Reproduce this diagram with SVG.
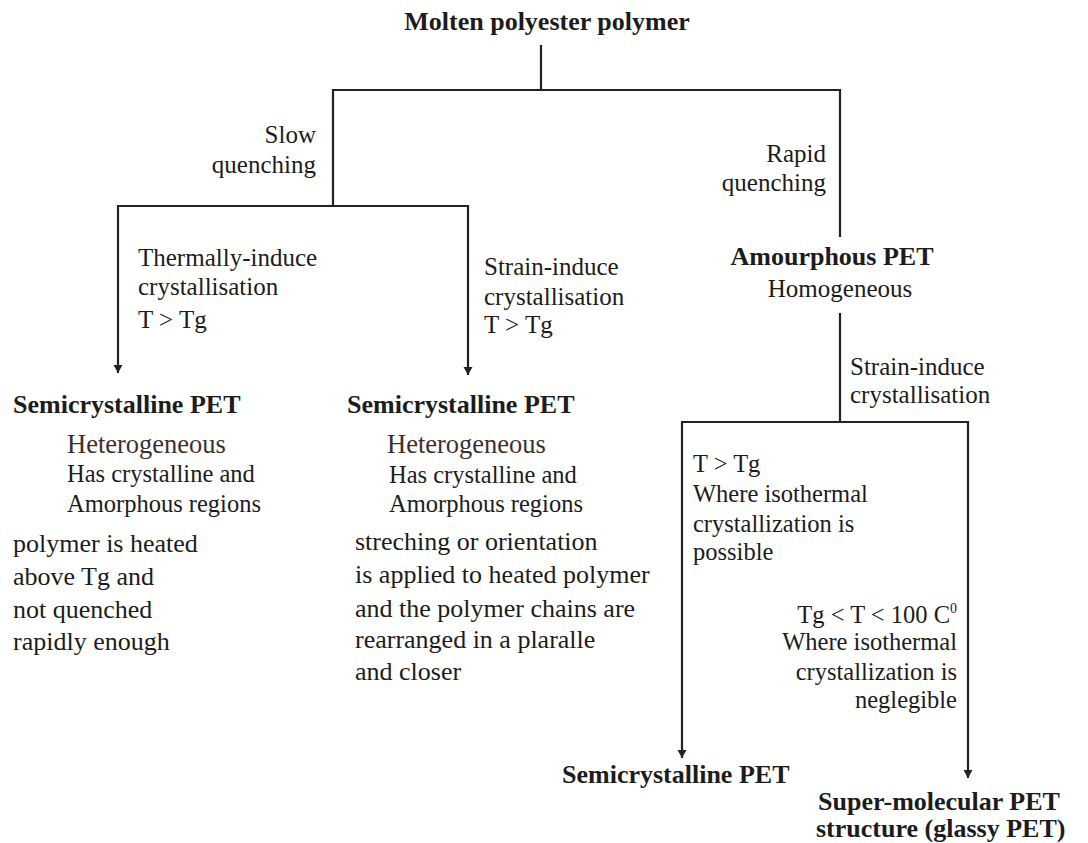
<svg xmlns="http://www.w3.org/2000/svg" width="1088" height="843" viewBox="0 0 1088 843">
<defs>
<style>
text{font-family:"Liberation Serif","Times New Roman",serif;fill:#1c1c1c;font-size:25px}
.b{font-weight:bold;font-size:26px}
.s{font-size:24.5px}
.big{font-size:26px}
.het{font-size:26.5px;fill:#3a3030}
.r{text-anchor:end}
.c{text-anchor:middle}
.ln{stroke:#222;stroke-width:2.2;fill:none}
</style>
<marker id="a" markerWidth="12" markerHeight="10" refX="10" refY="5" orient="auto" markerUnits="userSpaceOnUse">
<path d="M2,0.5 L10,5 L2,9.5 Z" fill="#222"/>
</marker>
</defs>
<rect width="1088" height="843" fill="#fff"/>
<g id="connectors">
<path class="ln" d="M541,45 V90"/>
<path class="ln" d="M333,206 V90 H840 V237"/>
<path class="ln" d="M118,206 H468"/>
<path class="ln" d="M118,205 V373" marker-end="url(#a)"/>
<path class="ln" d="M468,205 V375" marker-end="url(#a)"/>
<path class="ln" d="M840,313 V422"/>
<path class="ln" d="M682,422 H968"/>
<path class="ln" d="M682,421 V758" marker-end="url(#a)"/>
<path class="ln" d="M968,421 V778" marker-end="url(#a)"/>
<text x="316" y="143" class="r">Slow</text>
<text x="316" y="173" class="r">quenching</text>
<text x="826" y="162" class="r">Rapid</text>
<text x="826" y="191" class="r">quenching</text>
<text x="138" y="266">Thermally-induce</text>
<text x="138" y="295">crystallisation</text>
<text x="138" y="328">T &gt; Tg</text>
<text x="484" y="275">Strain-induce</text>
<text x="484" y="305">crystallisation</text>
<text x="484" y="333">T &gt; Tg</text>
<text x="850" y="375">Strain-induce</text>
<text x="850" y="403">crystallisation</text>
<text x="693" y="472" class="s">T &gt; Tg</text>
<text x="693" y="502" class="s">Where isothermal</text>
<text x="693" y="532" class="s">crystallization is</text>
<text x="693" y="560" class="s">possible</text>
<text x="957" y="623" class="s r">Tg &lt; T &lt; 100 C<tspan dy="-10" font-size="14">0</tspan></text>
<text x="957" y="650" class="s r">Where isothermal</text>
<text x="957" y="680" class="s r">crystallization is</text>
<text x="957" y="708" class="s r">neglegible</text>
</g>
<g id="n-molten"><text x="547" y="30" class="b c">Molten polyester polymer</text></g>
<g id="n-amorphous">
<text x="832" y="265" class="b c">Amourphous PET</text>
<text x="840" y="297" class="c">Homogeneous</text>
</g>
<g id="n-semi1">
<text x="13" y="413" class="b">Semicrystalline PET</text>
<text x="67" y="453" class="het">Heterogeneous</text>
<text x="67" y="482" class="s">Has crystalline and</text>
<text x="67" y="512" class="s">Amorphous regions</text>
<text x="13" y="552" class="big">polymer is heated</text>
<text x="13" y="585" class="big">above Tg and</text>
<text x="13" y="618" class="big">not quenched</text>
<text x="13" y="650" class="big">rapidly enough</text>
</g>
<g id="n-semi2">
<text x="347" y="413" class="b">Semicrystalline PET</text>
<text x="387" y="453" class="het">Heterogeneous</text>
<text x="389" y="483" class="s">Has crystalline and</text>
<text x="389" y="512" class="s">Amorphous regions</text>
<text x="355" y="550" class="big">streching or orientation</text>
<text x="355" y="583" class="big">is applied to heated polymer</text>
<text x="355" y="617" class="big">and the polymer chains are</text>
<text x="355" y="648" class="big">rearranged in a plaralle</text>
<text x="355" y="680" class="big">and closer</text>
</g>
<g id="n-semi3"><text x="562" y="783" class="b">Semicrystalline PET</text></g>
<g id="n-glassy">
<text x="818" y="810" class="b">Super-molecular PET</text>
<text x="816" y="837" class="b">structure (glassy PET)</text>
</g>
</svg>
